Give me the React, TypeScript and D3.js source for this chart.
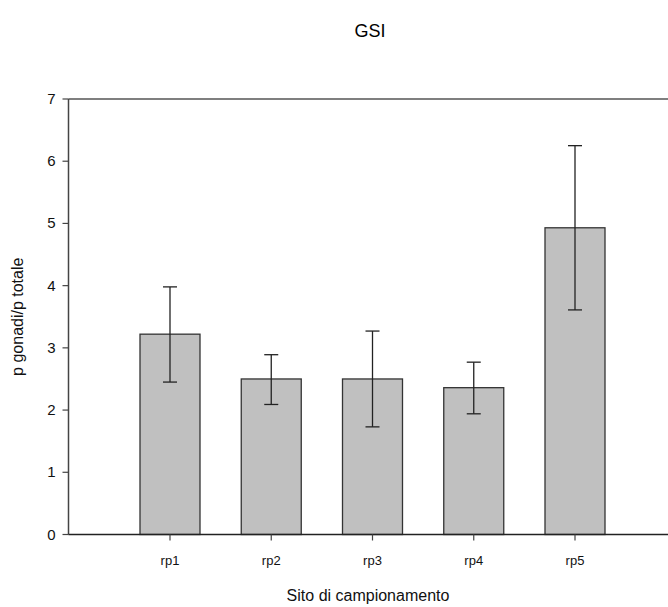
import React from "react";
import * as d3 from "d3";

const sites = ["rp1", "rp2", "rp3", "rp4", "rp5"];
const means = [3.22, 2.5, 2.5, 2.36, 4.93];
const upper = [3.98, 2.89, 3.27, 2.77, 6.25];
const lower = [2.45, 2.09, 1.73, 1.94, 3.61];
const yTicks = [0, 1, 2, 3, 4, 5, 6, 7];

const W = 668;
const H = 607;
const left = 68.5;
const right = 668;
const top = 99;
const bottom = 534.5;
const barW = 60;
const capW = 14;
const font = "Arial, 'Liberation Sans', sans-serif";

const x = d3.scalePoint<string>().domain(sites).range([170, 575]);
const y = d3.scaleLinear().domain([0, 7]).range([bottom, top]);

export default function App() {
	return (
		<svg width={W} height={H} style={{ position: "absolute", left: 0, top: 0 }} fontFamily={font}>
			<text x={370} y={37} textAnchor="middle" fontSize={18} fill="#000">GSI</text>
			{/* frame top line */}
			<line x1={left} x2={right} y1={top} y2={top} stroke="#555" strokeWidth={1.5}/>
			{/* bars */}
			{sites.map((s, i) => (
				<rect
					key={s}
					x={(x(s) as number) - barW / 2}
					y={y(means[i])}
					width={barW}
					height={bottom - y(means[i])}
					fill="#c0c0c0"
					stroke="#333"
					strokeWidth={1.3}/>
			))}
			{/* error bars */}
			{sites.map((s, i) => {
				const cx = x(s) as number;
				return (
					<g key={s} stroke="#222" strokeWidth={1.3}>
						<line x1={cx} x2={cx} y1={y(upper[i])} y2={y(lower[i])}/>
						<line x1={cx - capW / 2} x2={cx + capW / 2} y1={y(upper[i])} y2={y(upper[i])}/>
						<line x1={cx - capW / 2} x2={cx + capW / 2} y1={y(lower[i])} y2={y(lower[i])}/>
					</g>
				);
			})}
			{/* y axis */}
			<line x1={left} x2={left} y1={top} y2={bottom} stroke="#444" strokeWidth={1.5}/>
			{yTicks.map(t => (
				<g key={t}>
					<line x1={left - 6} x2={left} y1={y(t)} y2={y(t)} stroke="#444" strokeWidth={1.2}/>
					<text x={left - 13} y={y(t) + 5} textAnchor="end" fontSize={15} fill="#111">{t}</text>
				</g>
			))}
			{/* x axis */}
			<line x1={left} x2={right} y1={bottom} y2={bottom} stroke="#222" strokeWidth={1.5}/>
			{sites.map(s => (
				<g key={s}>
					<line x1={x(s)} x2={x(s)} y1={bottom} y2={bottom + 6} stroke="#444" strokeWidth={1.2}/>
					<text x={x(s)} y={bottom + 30} textAnchor="middle" fontSize={13} fill="#111">{s}</text>
				</g>
			))}
			<text x={368} y={601} textAnchor="middle" fontSize={16} fill="#111">Sito di campionamento</text>
			<text
				transform={`translate(23, ${(top + bottom) / 2}) rotate(-90)`}
				textAnchor="middle"
				fontSize={16}
				fill="#111">
				p gonadi/p totale
			</text>
		</svg>
	);
}
